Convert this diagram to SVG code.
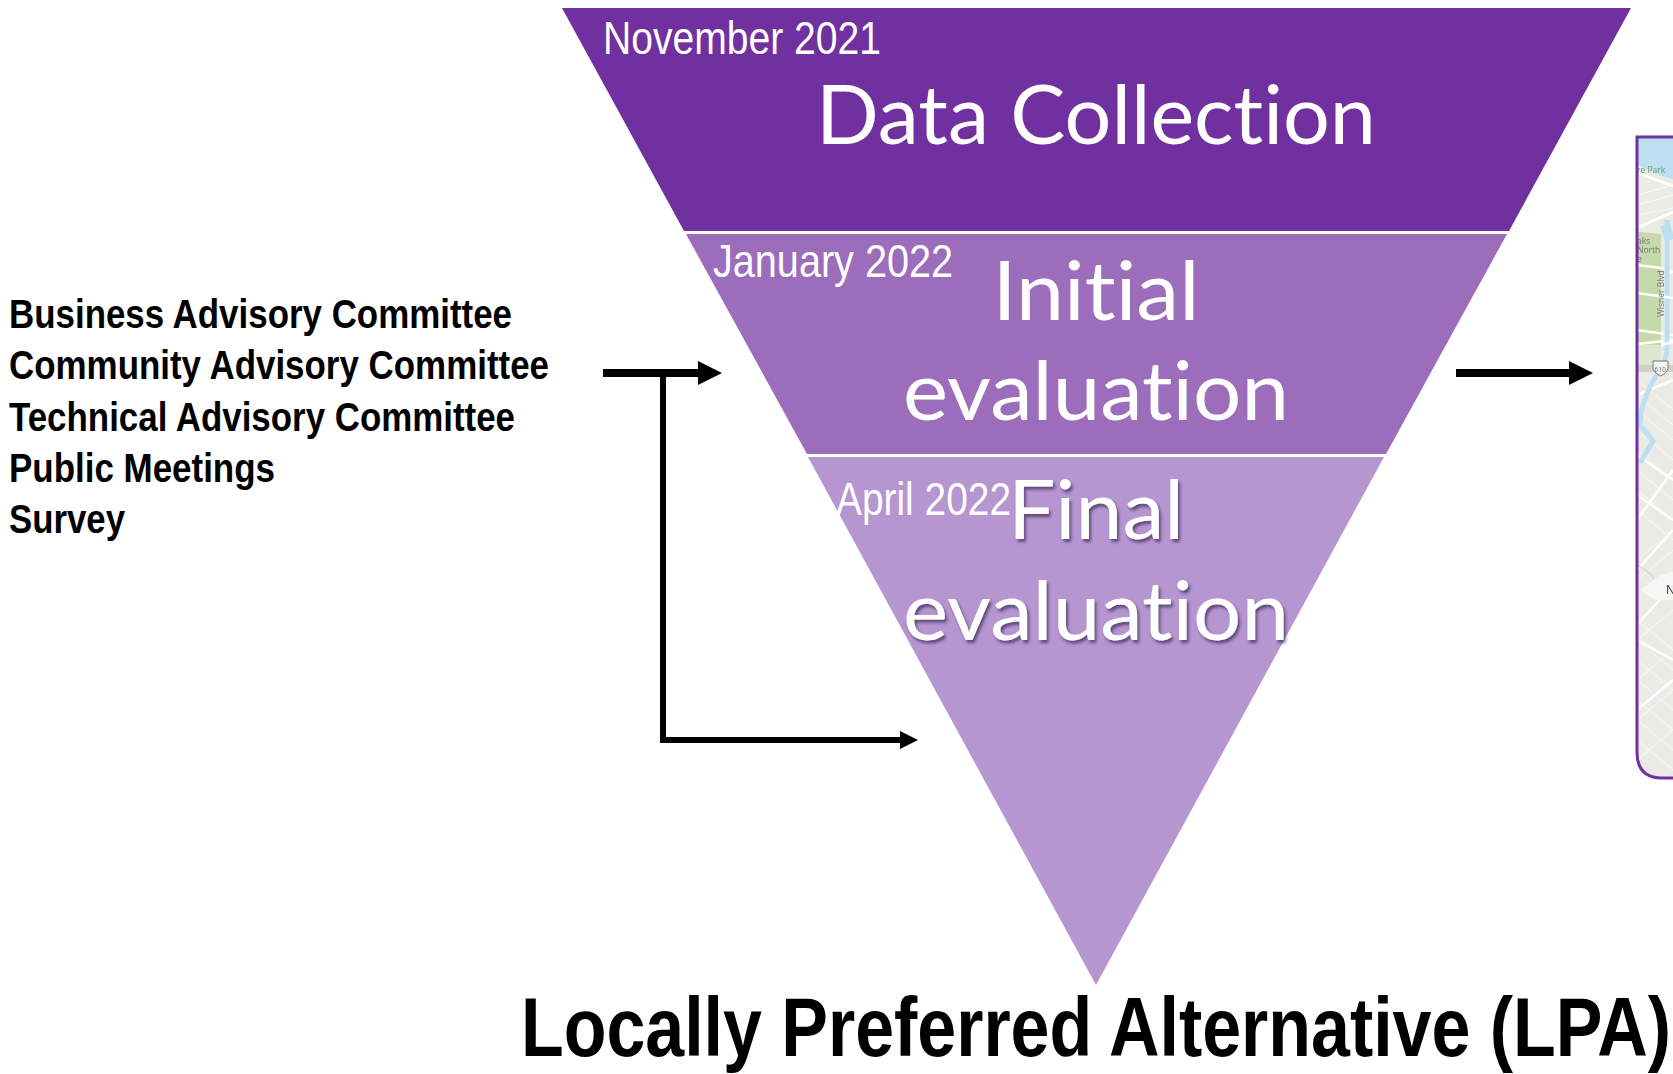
<svg xmlns="http://www.w3.org/2000/svg" width="1673" height="1074" viewBox="0 0 1673 1074">
<defs>
<style>
.date{font-family:"Liberation Sans",Arial,sans-serif;font-size:46px;fill:#fff}
.stage{font-family:Lato,"Open Sans",sans-serif;font-size:81px;fill:#fff;text-anchor:middle;font-variant-ligatures:none}
.src{font-family:"Liberation Sans",Arial,sans-serif;font-weight:700;font-size:40px;fill:#000}
.conn{fill:none;stroke:#000;stroke-width:6}
.thick{stroke-width:8}
.road{fill:none;stroke:#fff;stroke-width:2.5}
.minor{fill:none;stroke:#f8f8f6;stroke-width:1}
.maptext{font-family:"Open Sans",sans-serif;font-size:8.5px;fill:#777}
</style>
<filter id="sh" x="-5%" y="-5%" width="110%" height="115%"><feDropShadow dx="2" dy="3" stdDeviation="1.5" flood-color="#3d2a5a" flood-opacity=".7"/></filter>
<filter id="soft" x="0" y="0" width="100%" height="100%"><feGaussianBlur stdDeviation="0.6"/></filter>
<marker id="ah" markerUnits="userSpaceOnUse" markerWidth="24" markerHeight="24" refX="0" refY="12" orient="auto"><path d="M0,0L24,12L0,24Z" fill="#000"/></marker>
<marker id="ah2" markerUnits="userSpaceOnUse" markerWidth="18" markerHeight="18" refX="0" refY="9" orient="auto"><path d="M0,0L18,9L0,18Z" fill="#000"/></marker>
<clipPath id="mapclip"><path d="M1637,137H1673V778H1662Q1637,778 1637,752Z"/></clipPath>
</defs>
<rect width="1673" height="1074" fill="#fff"/>
<g id="map">
<g clip-path="url(#mapclip)">
<g filter="url(#soft)">
<rect x="1630" y="130" width="50" height="655" fill="#ebebe6"/>
<path d="M1630,130H1680V181Q1655,176 1630,160Z" fill="#bddff2"/>
<path d="M1630,231L1661,234V345H1630Z" fill="#c6d9ab"/>
<path d="M1630,345H1661V365H1630Z" fill="#dde6cf"/>
<path class="minor" d="M1637,195L1673,185M1637,205L1673,195M1637,215L1673,208M1637,380L1673,410M1637,395L1673,425M1637,410L1673,440M1637,430L1673,460M1637,450L1673,480M1637,470L1673,500M1637,490L1673,520M1637,510L1673,540M1637,620L1673,650M1637,640L1673,670M1637,660L1673,690M1637,680L1673,710M1637,700L1673,730M1637,720L1673,750M1637,740L1673,770M1637,560L1673,530M1637,580L1673,550M1637,640L1673,610M1637,680L1673,650M1637,720L1673,690M1637,760L1673,730"/>
<path class="road" d="M1637,172Q1650,178 1673,186M1637,228Q1655,220 1673,212M1637,265L1661,268L1673,272M1637,330L1673,335M1637,344L1673,340M1637,395L1673,380M1637,455L1673,480M1637,495L1673,520M1637,520L1673,470M1637,570L1673,530M1637,625L1673,585M1637,640L1673,660M1637,710L1673,680"/>
<path d="M1667,220V350Q1666,362 1656,376Q1646,392 1641,412L1640,425L1653,441L1640,463" fill="none" stroke="#bddff2" stroke-width="5"/>
<path d="M1665,225L1670,240" fill="none" stroke="#bddff2" stroke-width="10"/>
<path d="M1637,293L1673,298M1661,345L1673,342" class="road"/>
<rect x="1630" y="365" width="50" height="7" fill="#cfcfcf"/>
<path d="M1637,565Q1650,570 1658,585" fill="none" stroke="#d8d8d8" stroke-width="1.5"/>
<path d="M1640,590L1660,575L1680,570L1680,600L1655,600Z" fill="#f6f6f4"/>
<text class="maptext" x="1637" y="173" style="fill:#6f9e70">re Park</text>
<text class="maptext" x="1637" y="244">aks</text>
<text class="maptext" x="1637" y="253">North</text>
<text class="maptext" x="1637" y="262">e</text>
<text class="maptext" transform="rotate(-90 1664 317)" x="1664" y="317">Wisner Blvd</text>
<path d="M1653,361H1668V369Q1666,374 1660.500,376Q1655,374 1653,369Z" fill="#f4f4f4" stroke="#777" stroke-width="1"/>
<text class="maptext" x="1654.500" y="372" style="font-size:6.500px">610</text>
<text x="1666" y="594" style="font-family:'Open Sans',sans-serif;font-size:12px;fill:#333">N</text>
</g>
</g>
<path d="M1673,137H1637V752Q1637,778 1662,778H1673" fill="none" stroke="#7030a0" stroke-width="3"/>
</g>
<g id="stage-data-collection">
<path d="M562,8H1631L1509,231H684Z" fill="#7030a0"/>
<text class="date" x="603" y="53.500" textLength="278" lengthAdjust="spacingAndGlyphs">November 2021</text>
<text class="stage" x="1096" y="144" textLength="560" lengthAdjust="spacingAndGlyphs">Data Collection</text>
</g>
<g id="stage-initial">
<path d="M686,234H1507L1386,454H807Z" fill="#9b6dba"/>
<text class="date" x="713" y="276.500" textLength="240" lengthAdjust="spacingAndGlyphs">January 2022</text>
<text class="stage" x="1096" y="320" textLength="207" lengthAdjust="spacingAndGlyphs">Initial</text>
<text class="stage" x="1096" y="419.500" textLength="386" lengthAdjust="spacingAndGlyphs">evaluation</text>
</g>
<g id="stage-final">
<path d="M808,457H1384L1096,985Z" fill="#b596d0"/>
<text class="date" x="836" y="515" textLength="175" lengthAdjust="spacingAndGlyphs">April 2022</text>
<g filter="url(#sh)">
<text class="stage" x="1096" y="539" textLength="176" lengthAdjust="spacingAndGlyphs">Final</text>
<text class="stage" x="1096" y="640" textLength="386" lengthAdjust="spacingAndGlyphs">evaluation</text>
</g>
</g>
<g id="sources">
<text class="src" x="9" y="328" textLength="503" lengthAdjust="spacingAndGlyphs">Business Advisory Committee</text>
<text class="src" x="9" y="379" textLength="540" lengthAdjust="spacingAndGlyphs">Community Advisory Committee</text>
<text class="src" x="9" y="431" textLength="506" lengthAdjust="spacingAndGlyphs">Technical Advisory Committee</text>
<text class="src" x="9" y="482" textLength="266" lengthAdjust="spacingAndGlyphs">Public Meetings</text>
<text class="src" x="9" y="533" textLength="116" lengthAdjust="spacingAndGlyphs">Survey</text>
</g>
<g id="lpa">
<text x="521" y="1056" textLength="1150" lengthAdjust="spacingAndGlyphs" style="font-family:'Liberation Sans',Arial,sans-serif;font-weight:700;font-size:83px;fill:#000">Locally Preferred Alternative (LPA)</text>
</g>
<g id="connectors">
<path class="conn thick" d="M603,373H698" marker-end="url(#ah)"/>
<path class="conn" d="M663,373V740H900" marker-end="url(#ah2)"/>
<path class="conn thick" d="M1456,373H1569" marker-end="url(#ah)"/>
</g>
</svg>
